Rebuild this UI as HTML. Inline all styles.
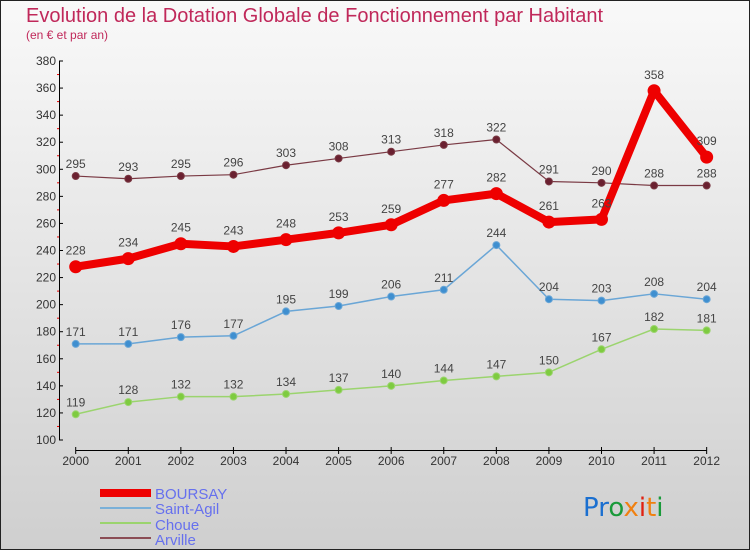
<!DOCTYPE html>
<html><head><meta charset="utf-8"><style>
body{margin:0;width:750px;height:550px;overflow:hidden;font-family:"Liberation Sans",sans-serif}
</style></head><body>
<svg width="750" height="550" xmlns="http://www.w3.org/2000/svg">
<defs><linearGradient id="bg" x1="0" y1="0" x2="0" y2="1"><stop offset="0" stop-color="#f9f9f9"/><stop offset="1" stop-color="#cfcfcf"/></linearGradient></defs>
<rect x="0.5" y="0.5" width="749" height="549" fill="url(#bg)" stroke="#222"/>
<text x="26" y="22" font-size="20" fill="#c0285a">Evolution de la Dotation Globale de Fonctionnement par Habitant</text>
<text x="26" y="39" font-size="12" fill="#c0285a">(en € et par an)</text>
<g id="axes"></g>
<g id="series"></g>
<g id="legend" font-size="15" fill="#6670ee">
<rect x="100" y="489" width="51" height="8" fill="#e00"/>
<text x="155" y="499">BOURSAY</text>
<rect x="100" y="507" width="51" height="2" fill="#7ab0d8"/>
<text x="155" y="514">Saint-Agil</text>
<rect x="100" y="522" width="51" height="2" fill="#9bd46e"/>
<text x="155" y="530">Choue</text>
<rect x="100" y="537" width="51" height="2" fill="#8b4d55"/>
<text x="155" y="545">Arville</text>
</g>
<g font-size="26" font-family="DejaVu Sans, sans-serif">
<text x="583" y="516"><tspan fill="#1a6fd0">Pr</tspan><tspan fill="#1a9a3a">o</tspan><tspan fill="#f08010">x</tspan><tspan fill="#e02010">i</tspan><tspan fill="#f08010">t</tspan><tspan fill="#1a9a3a">i</tspan></text>
</g>
</svg>
<script>
const years=[2000,2001,2002,2003,2004,2005,2006,2007,2008,2009,2010,2011,2012];
const yTicks=[100,120,140,160,180,200,220,240,260,280,300,320,340,360,380];
const boursay=[228,234,245,243,248,253,259,277,282,261,263,358,309];
const saintAgil=[171,171,176,177,195,199,206,211,244,204,203,208,204];
const choue=[119,128,132,132,134,137,140,144,147,150,167,182,181];
const arville=[295,293,295,296,303,308,313,318,322,291,290,288,288];
const NS="http://www.w3.org/2000/svg";
const X=i=>75.7+i*52.58;
const Y=v=>440-(v-100)*(379/280);
function mk(p,t,a){const e=document.createElementNS(NS,t);for(const k in a)e.setAttribute(k,a[k]);p.appendChild(e);return e;}
const ax=document.getElementById('axes');
let l=mk(ax,'line',{x1:59.5,y1:Y(380),x2:59.5,y2:Y(100),stroke:'#000'});


l=mk(ax,'line',{x1:X(0),y1:450.5,x2:X(12),y2:450.5,stroke:'#000'});


yTicks.forEach(v=>{
 mk(ax,'line',{x1:59,y1:Y(v),x2:63,y2:Y(v),stroke:'#000'});
 if(v<380) mk(ax,'line',{x1:57,y1:Y(v+10),x2:59,y2:Y(v+10),stroke:'#e00'});
 const t=mk(ax,'text',{x:56,y:Y(v)+4,'font-size':12,fill:'#333','text-anchor':'end'});
 t.textContent=v;
 
 
});
years.forEach((yr,i)=>{
 mk(ax,'line',{x1:X(i),y1:447,x2:X(i),y2:454,stroke:'#000'});
 const t=mk(ax,'text',{x:X(i),y:465,'font-size':12,fill:'#333','text-anchor':'middle'});
 t.textContent=yr;
 
 
});
const sg=document.getElementById('series');
function series(name,data,color,w,r,dot){
 const g=mk(sg,'g',{});
 
 
 const p=mk(g,'polyline',{points:data.map((v,i)=>X(i)+','+Y(v)).join(' '),fill:'none',stroke:color,'stroke-width':w,'stroke-linejoin':'round'});
 
 
 data.forEach((v,i)=>{
  const c=mk(g,'circle',{cx:X(i),cy:Y(v),r:r,fill:dot,stroke:color,'stroke-width':1});
  
  
  const t=mk(g,'text',{x:X(i),y:Y(v)-(w>3?12:8),'font-size':12,fill:'#444','text-anchor':'middle'});
  t.textContent=v;
  
  
 });
}
series('choue',choue,'#9bd46e',1.5,3.5,'#7ecb40');
series('saint-agil',saintAgil,'#6aa6d6',1.5,3.5,'#3f8fd0');
series('arville',arville,'#7a3a44',1.2,3.5,'#6a2030');
series('boursay',boursay,'#ee0000',8,6,'#ee0000');
</script>
</body></html>
